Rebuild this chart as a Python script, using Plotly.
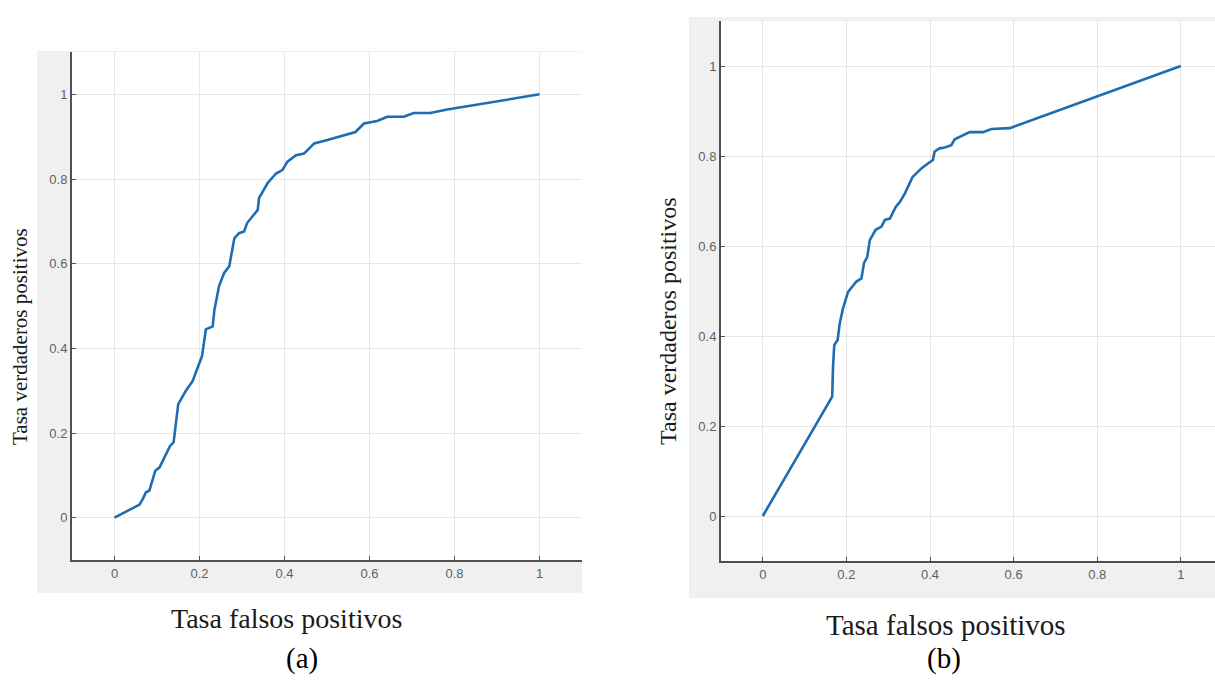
import plotly.graph_objects as go

W, H = 1215, 681

# ---- data ----
fpr_a = [0, 0.059, 0.067, 0.074, 0.082, 0.096, 0.106, 0.131, 0.139, 0.150, 0.168, 0.184,
         0.206, 0.215, 0.231, 0.235, 0.246, 0.258, 0.270, 0.282, 0.293, 0.305, 0.312, 0.321,
         0.337, 0.340, 0.360, 0.380, 0.395, 0.407, 0.427, 0.446, 0.470, 0.501, 0.548, 0.567,
         0.587, 0.618, 0.642, 0.681, 0.704, 0.743, 0.783, 0.931, 1.0]
tpr_a = [0, 0.031, 0.045, 0.060, 0.064, 0.111, 0.119, 0.170, 0.178, 0.268, 0.300, 0.323,
         0.382, 0.445, 0.452, 0.490, 0.547, 0.578, 0.594, 0.660, 0.672, 0.676, 0.696, 0.708,
         0.727, 0.755, 0.790, 0.813, 0.821, 0.841, 0.856, 0.860, 0.884, 0.892, 0.906, 0.911,
         0.931, 0.937, 0.947, 0.947, 0.956, 0.956, 0.964, 0.988, 1.0]

fpr_b = [0, 0.160, 0.166, 0.168, 0.171, 0.179, 0.184, 0.192, 0.204, 0.224, 0.236, 0.242,
         0.250, 0.256, 0.270, 0.284, 0.292, 0.304, 0.318, 0.328, 0.340, 0.358, 0.380, 0.396,
         0.407, 0.411, 0.423, 0.435, 0.451, 0.459, 0.471, 0.495, 0.527, 0.547, 0.591, 1.0]
tpr_b = [0, 0.254, 0.265, 0.332, 0.380, 0.391, 0.428, 0.462, 0.498, 0.521, 0.528, 0.562,
         0.576, 0.613, 0.636, 0.643, 0.658, 0.661, 0.687, 0.698, 0.717, 0.753, 0.773, 0.784,
         0.791, 0.810, 0.817, 0.819, 0.824, 0.837, 0.842, 0.853, 0.853, 0.860, 0.862, 1.0]

tick_vals = [0, 0.2, 0.4, 0.6, 0.8, 1]
tick_text = ["0", "0.2", "0.4", "0.6", "0.8", "1"]

x_title = "Tasa falsos positivos"
y_title = "Tasa verdaderos positivos"
panel_labels = ["(a)", "(b)"]

LINE_COLOR = "#1c6db3"


def px_x(p):
    return p / W


def px_y(p):
    return 1 - p / H


fig = go.Figure()
fig.add_trace(go.Scatter(x=fpr_a, y=tpr_a, mode="lines", xaxis="x", yaxis="y",
                         line=dict(color=LINE_COLOR, width=2.6), showlegend=False,
                         hoverinfo="skip"))
fig.add_trace(go.Scatter(x=fpr_b, y=tpr_b, mode="lines", xaxis="x2", yaxis="y2",
                         line=dict(color=LINE_COLOR, width=2.6), showlegend=False,
                         hoverinfo="skip"))

axis_common = dict(
    tickvals=tick_vals, ticktext=tick_text,
    showgrid=True, gridcolor="#e6e6e6", gridwidth=1,
    zeroline=False,
    showline=True, linecolor="#505050", linewidth=2,
    ticks="inside", ticklen=4, tickcolor="#505050", tickwidth=1,
    tickfont=dict(family="Liberation Sans, Arial, sans-serif", size=13, color="#606060"),
    fixedrange=True,
)

# panel geometry (pixels)
a_x0, a_x1, a_y0, a_y1 = 72, 582, 52, 560
b_x0, b_x1, b_y0, b_y1 = 721, 1215, 21, 561
b_xmax = -0.1 + (b_x1 - b_x0) / 418.0

fig.update_layout(
    width=W, height=H,
    margin=dict(l=0, r=0, t=0, b=0),
    paper_bgcolor="white",
    plot_bgcolor="rgba(0,0,0,0)",
    xaxis=dict(domain=[px_x(a_x0), px_x(a_x1)], range=[-0.1, 1.1], anchor="y", **axis_common),
    yaxis=dict(domain=[px_y(a_y1), px_y(a_y0)], range=[-0.1, 1.1], anchor="x", **axis_common),
    xaxis2=dict(domain=[px_x(b_x0), 1.0], range=[-0.1, b_xmax], anchor="y2", **axis_common),
    yaxis2=dict(domain=[px_y(b_y1), px_y(b_y0)], range=[-0.1, 1.1], anchor="x2", **axis_common),
)

shapes = []
# gray MATLAB figure backgrounds
for (gx0, gx1, gy0, gy1) in [(37, 582, 51, 593), (689, 1215, 17, 598)]:
    shapes.append(dict(type="rect", xref="paper", yref="paper", layer="below",
                       x0=px_x(gx0), x1=px_x(gx1), y0=px_y(gy1), y1=px_y(gy0),
                       fillcolor="#f0f0f0", line=dict(width=0)))
# white plot areas
for (px0, px1, py0, py1) in [(a_x0, a_x1, a_y0, a_y1), (b_x0, b_x1, b_y0, b_y1)]:
    shapes.append(dict(type="rect", xref="paper", yref="paper", layer="below",
                       x0=px_x(px0), x1=px_x(px1), y0=px_y(py1), y1=px_y(py0),
                       fillcolor="white", line=dict(width=0)))
fig.update_layout(shapes=shapes)

serif = "Liberation Serif, Times New Roman, serif"
ann = []
ann.append(dict(text=y_title, x=px_x(20), y=px_y(337), xref="paper", yref="paper",
                showarrow=False, textangle=-90, xanchor="center", yanchor="middle",
                font=dict(family=serif, size=21, color="#1a1a1a")))
ann.append(dict(text=y_title, x=px_x(668), y=px_y(321), xref="paper", yref="paper",
                showarrow=False, textangle=-90, xanchor="center", yanchor="middle",
                font=dict(family=serif, size=24, color="#1a1a1a")))
ann.append(dict(text=x_title, x=px_x(286), y=px_y(618), xref="paper", yref="paper",
                showarrow=False, xanchor="center", yanchor="middle",
                font=dict(family=serif, size=28, color="#1a1a1a")))
ann.append(dict(text=x_title, x=px_x(946), y=px_y(625), xref="paper", yref="paper",
                showarrow=False, xanchor="center", yanchor="middle",
                font=dict(family=serif, size=29, color="#1a1a1a")))
ann.append(dict(text=panel_labels[0], x=px_x(302), y=px_y(658), xref="paper", yref="paper",
                showarrow=False, xanchor="center", yanchor="middle",
                font=dict(family=serif, size=29, color="#000000")))
ann.append(dict(text=panel_labels[1], x=px_x(944), y=px_y(658), xref="paper", yref="paper",
                showarrow=False, xanchor="center", yanchor="middle",
                font=dict(family=serif, size=29, color="#000000")))
fig.update_layout(annotations=ann)

fig.write_html("out.html")
